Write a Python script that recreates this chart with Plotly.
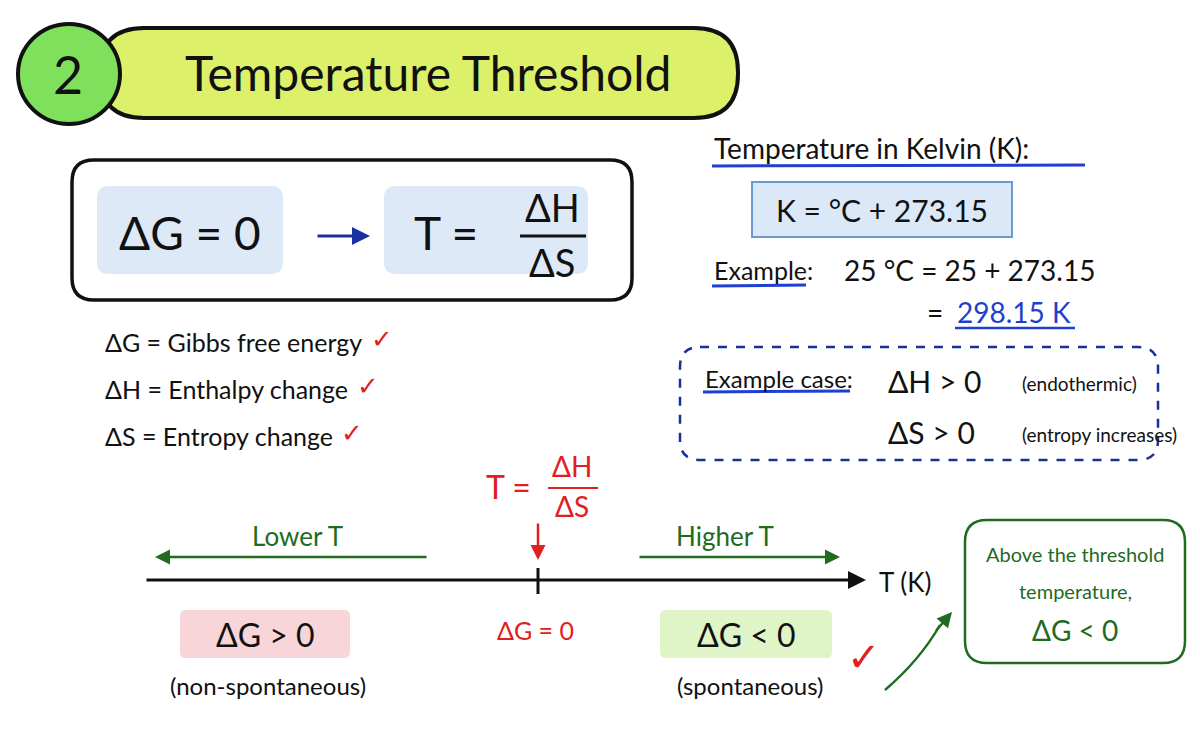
import plotly.graph_objects as go

title_num = "2"
title_text = "Temperature Threshold"
definitions = ["ΔG = Gibbs free energy", "ΔH = Enthalpy change", "ΔS = Entropy change"]
def_y = [342, 389, 436]
def_check_x = [382, 368, 352]
kelvin_title = "Temperature in Kelvin (K):"
kelvin_formula = "K = °C + 273.15"
example_line1 = "25 °C = 25 + 273.15"
example_result = "298.15 K"
case_rows = [("ΔH > 0", "(endothermic)"), ("ΔS > 0", "(entropy increases)")]
left_state = ("ΔG > 0", "(non-spontaneous)")
right_state = ("ΔG < 0", "(spontaneous)")
note_lines = ["Above the threshold", "temperature,", "ΔG < 0"]

FONT = "Comic Sans MS, Lato, sans-serif"
GREEN = "#1f6b1f"
RED = "#e02020"
BLUE = "#1f3fd0"

def rrect(x0, y0, x1, y1, r):
    return (f"M{x0+r},{y0} L{x1-r},{y0} Q{x1},{y0} {x1},{y0+r} L{x1},{y1-r} Q{x1},{y1} {x1-r},{y1} "
            f"L{x0+r},{y1} Q{x0},{y1} {x0},{y1-r} L{x0},{y0+r} Q{x0},{y0} {x0+r},{y0} Z")

shapes, ann = [], []
def box(x0, y0, x1, y1, r, fill, line="rgba(0,0,0,0)", w=0, dash="solid"):
    shapes.append(dict(type="path", path=rrect(x0, y0, x1, y1, r), fillcolor=fill,
                       line=dict(color=line, width=w, dash=dash), layer="below"))
def text(x, y, t, size, color="#111", anchor="center"):
    ann.append(dict(x=x, y=y, text=t, showarrow=False, xanchor=anchor, yanchor="middle",
                    font=dict(family=FONT, size=size, color=color)))
def line(x0, y0, x1, y1, color="#111", w=3):
    shapes.append(dict(type="line", x0=x0, y0=y0, x1=x1, y1=y1, line=dict(color=color, width=w)))
def arrow(x0, y0, x1, y1, color, w=2.5):
    ann.append(dict(x=x1, y=y1, ax=x0, ay=y0, axref="x", ayref="y", xref="x", yref="y", text="",
                    showarrow=True, arrowhead=2, arrowsize=1.2, arrowwidth=w, arrowcolor=color))

# title
box(100, 28, 738, 118, 44, "#dcf06a", "#111", 4)
shapes.append(dict(type="circle", x0=18, y0=24, x1=120, y1=124, fillcolor="#7fe05c", line=dict(color="#111", width=4)))
text(68, 74, title_num, 52)
text(428, 72, title_text, 48)

# formula box
box(72, 160, 632, 300, 22, "white", "#111", 3.5)
box(97, 186, 283, 274, 12, "#dde9f7")
box(384, 186, 588, 274, 12, "#dde9f7")
text(190, 232, "ΔG = 0", 46)
arrow(316, 236, 370, 236, "#1a2fa0", 3)
text(446, 232, "T =", 46)
text(552, 207, "ΔH", 38)
line(520, 236, 586, 236, "#111", 3)
text(552, 262, "ΔS", 38)

for t, y, cx in zip(definitions, def_y, def_check_x):
    text(103, y, t, 25, anchor="left")
    text(cx, y - 4, "✓", 26, RED)

# kelvin
text(712, 148, kelvin_title, 28, anchor="left")
line(712, 166, 1085, 165, BLUE, 3)
box(752, 182, 1012, 237, 0, "#dbe8f7", "#6a9ad0", 2)
text(882, 210, kelvin_formula, 30)
text(712, 270, "Example:", 25, anchor="left")
line(712, 286, 806, 285, BLUE, 3)
text(842, 270, example_line1, 28, anchor="left")
text(925, 312, "=", 28, anchor="left")
text(955, 312, example_result, 28, BLUE, anchor="left")
line(955, 328, 1075, 328, BLUE, 2.5)

# case box
box(680, 347, 1158, 460, 20, "rgba(0,0,0,0)", "#1a2f9a", 2.5, "dash")
text(703, 378, "Example case:", 24, anchor="left")
line(703, 392, 850, 391, BLUE, 3)
for (a, b), y in zip(case_rows, [381, 432]):
    text(886, y, a, 30, anchor="left")
    text(1020, y + 2, b, 19, anchor="left")

# number line
text(508, 486, "T =", 32, RED)
text(572, 466, "ΔH", 28, RED)
line(548, 488, 598, 488, RED, 2)
text(572, 506, "ΔS", 28, RED)
arrow(538, 522, 538, 560, RED, 2.5)
arrow(145, 580, 866, 580, "#111", 3)
line(538, 568, 538, 594, "#111", 3)
text(905, 582, "T (K)", 26)
text(297, 536, "Lower T", 26, GREEN)
arrow(428, 557, 155, 557, GREEN, 2.5)
text(725, 536, "Higher T", 26, GREEN)
arrow(638, 557, 840, 557, GREEN, 2.5)
text(535, 630, "ΔG = 0", 25, RED)

box(180, 610, 350, 658, 6, "#f7d5d8")
text(265, 634, left_state[0], 32)
text(268, 685, left_state[1], 24)
box(660, 610, 832, 658, 6, "#dff5c8")
text(746, 634, right_state[0], 32)
text(750, 685, right_state[1], 24)
text(864, 656, "✓", 40, RED)
shapes.append(dict(type="path", path="M885,690 Q920,660 940,625", line=dict(color=GREEN, width=2.5)))
arrow(935, 632, 952, 612, GREEN, 2.5)

box(965, 520, 1185, 663, 22, "white", GREEN, 2.5)
for t, y in zip(note_lines, [554, 591, 630]):
    text(1075, y, t, 28 if t.startswith("Δ") else 20, GREEN)

fig = go.Figure()
fig.update_layout(width=1200, height=741, margin=dict(l=0, r=0, t=0, b=0),
                  paper_bgcolor="white", plot_bgcolor="white", shapes=shapes, annotations=ann,
                  xaxis=dict(range=[8, 1208], visible=False, fixedrange=True),
                  yaxis=dict(range=[749, 8], visible=False, fixedrange=True))
fig.write_html("out.html")
